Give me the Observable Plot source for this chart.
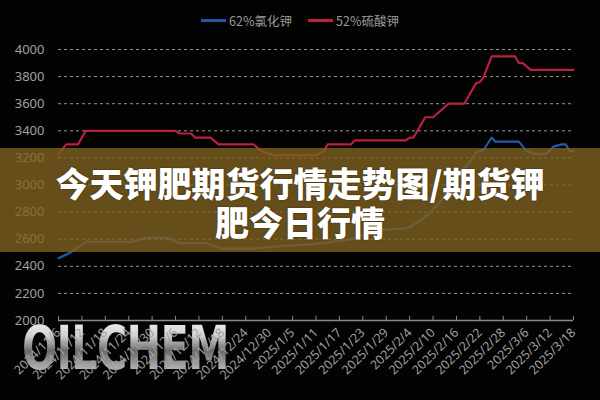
<!DOCTYPE html>
<html><head><meta charset="utf-8">
<script src="https://cdn.jsdelivr.net/npm/d3@7"></script>
<script src="https://cdn.jsdelivr.net/npm/@observablehq/plot@0.6"></script>
<style>
body{margin:0;background:#000;}
#wrap{position:relative;width:600px;height:400px;overflow:hidden;background:#030303;font-family:"Noto Sans","Noto Sans CJK SC",sans-serif;}
#mark{position:absolute;left:22px;top:318px;font:bold 60px/60px "DejaVu Sans";letter-spacing:-1px;transform:scaleX(0.69);transform-origin:left top;white-space:nowrap;background:linear-gradient(180deg,#f6f6f6 0%,#d0d0d0 30%,#6a6a6a 55%,#9a9a9a 75%,#dcdcdc 100%);-webkit-background-clip:text;background-clip:text;color:transparent;z-index:0;}
#chart{position:absolute;left:0;top:0;z-index:1;}
#legend{position:absolute;top:11px;left:0;width:600px;display:flex;justify-content:center;gap:16px;font-size:12.5px;color:#9a9a9a;z-index:2;font-family:"Noto Sans CJK SC",sans-serif;}
#legend span{display:flex;align-items:center;}
#legend i{display:inline-block;width:25px;height:2.5px;margin-right:3px;}
#banner{position:absolute;left:0;top:148px;width:600px;height:104px;background:rgba(128,98,33,0.8);z-index:3;}
#title{position:absolute;left:0;top:15px;width:600px;text-align:center;color:#fff;font:900 34px/39px "Noto Sans CJK SC",sans-serif;text-shadow:0 0 2px rgba(0,0,0,0.5);}
</style></head>
<body>
<div id="wrap">
  <div id="mark"></div>
  <div id="legend"></div>
  <div id="banner"><div id="title"></div></div>
</div>
<script>
const titleLines = ["今天钾肥期货行情走势图/期货钾", "肥今日行情"];
const watermark = "OILCHEM";
const seriesNames = ["62%氯化钾", "52%硫酸钾"];
const seriesColors = ["#2358a8", "#b8213f"];
const yTicks = [2000, 2200, 2400, 2600, 2800, 3000, 3200, 3400, 3600, 3800, 4000];
const tickLabels = ["2024/11/6","2024/11/12","2024/11/18","2024/11/24","2024/11/30","2024/12/6","2024/12/12","2024/12/18","2024/12/24","2024/12/30","2025/1/5","2025/1/11","2025/1/17","2025/1/23","2025/1/29","2025/2/4","2025/2/10","2025/2/16","2025/2/22","2025/2/28","2025/3/6","2025/3/12","2025/3/18"];

// 62%氯化钾
const kclDates = ["2024/11/6","2024/11/9","2024/11/13","2024/11/25","2024/11/28","2024/12/4","2024/12/7","2024/12/14","2024/12/18","2024/12/26","2025/1/2","2025/1/9","2025/1/15","2025/1/20","2025/1/24","2025/1/28","2025/2/3","2025/2/4","2025/2/7","2025/2/9","2025/2/12","2025/2/14","2025/2/16","2025/2/19","2025/2/21","2025/2/23","2025/2/25","2025/2/26","2025/3/4","2025/3/6","2025/3/8","2025/3/11","2025/3/13","2025/3/15","2025/3/16","2025/3/17","2025/3/18"];
const kclValues = [2460,2500,2580,2580,2610,2610,2570,2570,2530,2530,2550,2560,2580,2600,2640,2670,2680,2690,2740,2790,2880,2970,3070,3150,3240,3260,3350,3320,3320,3250,3230,3230,3285,3300,3300,3250,3250];

// 52%硫酸钾
const sopDates = ["2024/11/6","2024/11/8","2024/11/11","2024/11/12","2024/11/13","2024/12/6","2024/12/7","2024/12/10","2024/12/11","2024/12/15","2024/12/17","2024/12/26","2024/12/28","2024/12/31","2025/1/11","2025/1/13","2025/1/14","2025/1/20","2025/1/21","2025/2/3","2025/2/4","2025/2/5","2025/2/8","2025/2/10","2025/2/14","2025/2/18","2025/2/21","2025/2/22","2025/2/23","2025/2/25","2025/3/3","2025/3/4","2025/3/5","2025/3/7","2025/3/18"];
const sopValues = [3230,3300,3300,3350,3400,3400,3380,3380,3350,3350,3300,3300,3250,3220,3220,3250,3300,3300,3330,3330,3350,3350,3500,3500,3600,3600,3750,3760,3800,3950,3950,3900,3900,3850,3850];

const parse = s => { const [y, m, d] = s.split("/").map(Number); return new Date(Date.UTC(y, m - 1, d)); };
const fmt = d => `${d.getUTCFullYear()}/${d.getUTCMonth() + 1}/${d.getUTCDate()}`;
const tickDates = tickLabels.map(parse);
const kcl = kclDates.map((d, i) => ({date: parse(d), value: kclValues[i]}));
const sop = sopDates.map((d, i) => ({date: parse(d), value: sopValues[i]}));

document.getElementById("title").innerHTML = titleLines.join("<br>");
document.getElementById("mark").textContent = watermark;
document.getElementById("legend").innerHTML = seriesNames.map((n, i) =>
  `<span><i style="background:${seriesColors[i]}"></i>${n}</span>`).join("");

const chart = Plot.plot({
  width: 600, height: 400,
  marginTop: 49, marginBottom: 80, marginLeft: 58, marginRight: 27,
  style: {background: "transparent", color: "#a0a0a0", fontFamily: "'Noto Sans', sans-serif", fontSize: "13px"},
  x: {type: "utc", domain: [tickDates[0], tickDates[tickDates.length - 1]]},
  y: {domain: [2000, 4000]},
  marks: [
    Plot.gridY(yTicks.slice(1), {stroke: "#c8c8c8", strokeOpacity: 0.75, strokeDasharray: "3,3", strokeWidth: 1}),
    Plot.axisY(yTicks, {tickSize: 0, tickPadding: 14, fontSize: 13, tickFormat: d => String(d), label: null}),
    Plot.ruleY([2000], {stroke: "#8a8a8a", strokeWidth: 1.5}),
    Plot.ruleX(tickDates, {x: d => d, y1: 2000, y2: 2030, stroke: "#8a8a8a"}),
    Plot.axisX(tickDates, {tickSize: 0, tickPadding: 10, tickRotate: -45, tickFormat: fmt, fontSize: 12.5, label: null}),
    Plot.line(kcl, {x: "date", y: "value", stroke: seriesColors[0], strokeWidth: 2.2}),
    Plot.line(sop, {x: "date", y: "value", stroke: seriesColors[1], strokeWidth: 2.2})
  ]
});
chart.id = "chart";
document.getElementById("wrap").appendChild(chart);
</script>
</body></html>
